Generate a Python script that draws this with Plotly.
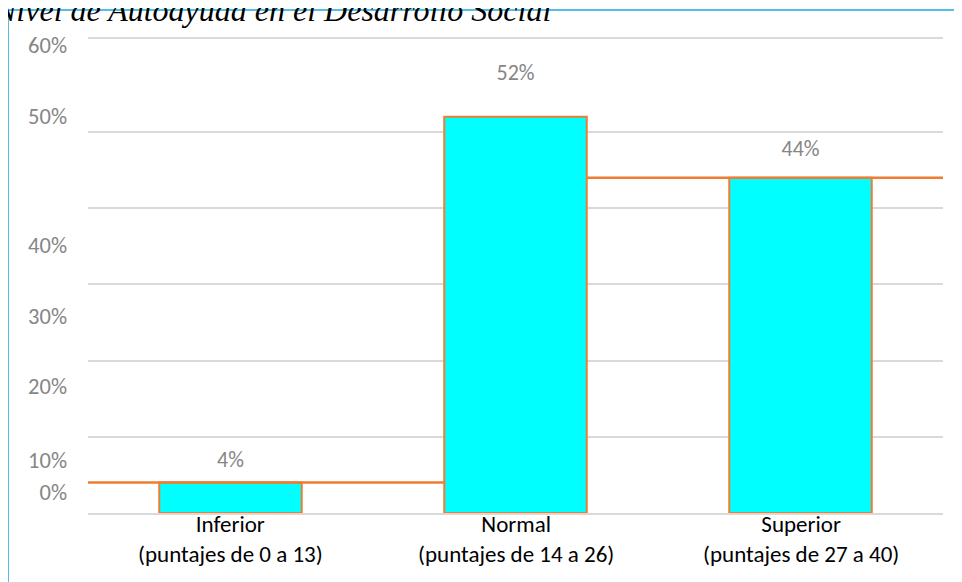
import plotly.graph_objects as go

# ---- data ----
category_names = ["Inferior", "Normal", "Superior"]
category_ranges = ["(puntajes de 0 a 13)", "(puntajes de 14 a 26)", "(puntajes de 27 a 40)"]
values = [4, 52, 44]
value_labels = ["4%", "52%", "44%"]
value_label_pos = [6.8, 57.5, 47.6]          # where the data labels sit (in % units)

grid_vals = [10, 20, 30, 40, 50]              # inner gridlines
ytick_pos = [2.8, 7.0, 16.7, 25.9, 35.2, 52.1, 61.4]   # tick label positions (shifted as in picture)
ytick_text = ["0%", "10%", "20%", "30%", "40%", "50%", "60%"]

title_text = "Nivel de Autoayuda en el Desarrollo Social"

bar_width = 0.5
xpos = list(range(len(category_names)))
y_range = [0, 62.2]

BODY_FONT = "Carlito, Lato, 'Open Sans', sans-serif"
GRAY = "#868686"
GRID = "#D9D9D9"
ORANGE = "#ED7D31"
CYAN = "#00FFFF"

fig = go.Figure()

fig.add_trace(go.Bar(
    x=xpos, y=values, width=bar_width,
    marker=dict(color=CYAN, line=dict(color=ORANGE, width=2)),
    hovertext=[f"{n} {r}" for n, r in zip(category_names, category_ranges)],
    hoverinfo="text+y", showlegend=False,
))

# orange connector lines (as in the original picture)
line_x = [-0.5, xpos[1] - bar_width / 2, None, xpos[1] + bar_width / 2, 2.5]
line_y = [values[0], values[0], None, values[2], values[2]]
fig.add_trace(go.Scatter(
    x=line_x, y=line_y, mode="lines",
    line=dict(color=ORANGE, width=2.5),
    hoverinfo="skip", showlegend=False, cliponaxis=False,
))

# data labels
fig.add_trace(go.Scatter(
    x=xpos, y=value_label_pos, mode="text", text=value_labels,
    textfont=dict(family=BODY_FONT, size=22, color=GRAY),
    hoverinfo="skip", showlegend=False,
))

# invisible trace to activate yaxis2 (tick labels)
fig.add_trace(go.Scatter(x=[xpos[0]], y=[0], yaxis="y2", mode="markers",
                         marker=dict(opacity=0), hoverinfo="skip", showlegend=False))

# the page places the figure 8px from the top-left corner
OFF = 8
L, T, PW, PH = 88 - OFF, 39 - OFF, 855, 474
R = 962 - L - PW
B = 582 - T - PH


def px(xpage):
    return (xpage - 88) / PW


def py(ypage):
    return (513 - ypage) / PH


annotations = [dict(
    text=title_text, xref="paper", yref="paper",
    x=px(-8), y=py(15),
    xanchor="left", yanchor="bottom", showarrow=False, yshift=-15,
    font=dict(family="'Liberation Serif', 'Times New Roman', serif",
              size=32, color="#000000", style="italic"),
)]
for xi, name, rng in zip(xpos, category_names, category_ranges):
    annotations.append(dict(
        text=f"{name}<br>{rng}", xref="x", yref="paper", x=xi, y=py(539),
        xanchor="center", yanchor="middle", showarrow=False,
        font=dict(family=BODY_FONT, size=23, color="#000000"),
    ))

fig.update_layout(
    width=962, height=582,
    margin=dict(l=L, r=R, t=T, b=B, autoexpand=False),
    paper_bgcolor="white", plot_bgcolor="white",
    xaxis=dict(
        range=[-0.5, 2.5], tickmode="array", tickvals=xpos, ticktext=category_names,
        showticklabels=False,
        showgrid=False, zeroline=False, showline=True, mirror=True,
        linecolor=GRID, linewidth=1.5, ticks="",
    ),
    yaxis=dict(
        range=y_range, tickmode="array", tickvals=grid_vals,
        showticklabels=False, showgrid=True, gridcolor=GRID, gridwidth=1.5,
        zeroline=False, showline=False, ticks="",
    ),
    yaxis2=dict(
        range=y_range, overlaying="y", side="left",
        tickmode="array", tickvals=ytick_pos, ticktext=ytick_text,
        showgrid=False, zeroline=False, showline=False, ticks="",
        ticklabelstandoff=20,
        tickfont=dict(family=BODY_FONT, size=22.5, color=GRAY),
    ),
    shapes=[dict(
        type="rect", xref="paper", yref="paper",
        x0=px(8), x1=px(1100), y0=py(700), y1=py(10),
        line=dict(color="#1FA7E1", width=1.5), fillcolor="rgba(0,0,0,0)",
        layer="below",
    )],
    annotations=annotations,
)

fig.write_html("out.html")
